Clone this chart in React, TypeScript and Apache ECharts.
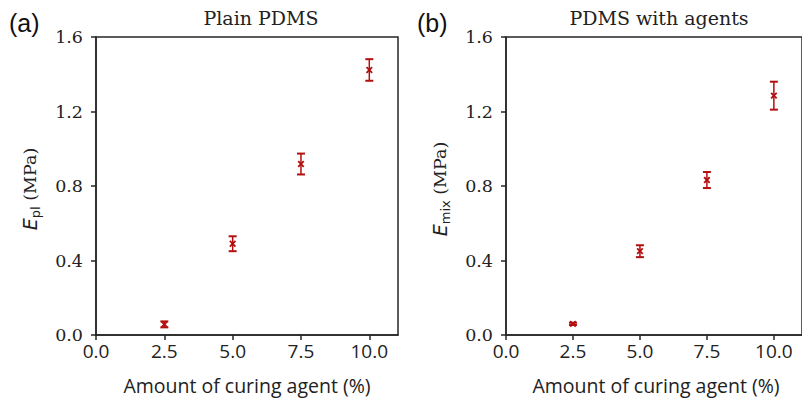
import React, { useEffect, useRef } from "react";
import * as echarts from "echarts";

const curingAgent = [2.5, 5.0, 7.5, 10.0];
const plainMean = [0.057, 0.49, 0.918, 1.423];
const plainErr = [0.016, 0.04, 0.056, 0.058];
const agentMean = [0.06, 0.45, 0.832, 1.285];
const agentErr = [0.006, 0.032, 0.043, 0.075];
const xTicks = [0, 2.5, 5.0, 7.5, 10.0];

const RED = "#b30f0f";
const AX = "#262626";

function renderErr(params: any, api: any) {
  const x = api.value(0);
  const y = api.value(1);
  const e = api.value(2);
  const c = api.coord([x, y]);
  const t = api.coord([x, y + e]);
  const b = api.coord([x, y - e]);
  const cw = 4;
  const m = 2.8;
  const ln = (x1: number, y1: number, x2: number, y2: number, w: number) => ({
    type: "line",
    shape: { x1, y1, x2, y2 },
    style: { stroke: RED, lineWidth: w },
  });
  return {
    type: "group",
    children: [
      ln(c[0], t[1], c[0], b[1], 1.5),
      ln(c[0] - cw, t[1], c[0] + cw, t[1], 2),
      ln(c[0] - cw, b[1], c[0] + cw, b[1], 2),
      ln(c[0] - m, c[1] - m, c[0] + m, c[1] + m, 1.8),
      ln(c[0] - m, c[1] + m, c[0] + m, c[1] - m, 1.8),
    ],
  };
}

export default function App() {
  const ref = useRef<HTMLDivElement>(null);
  useEffect(() => {
    if (!ref.current) return;
    const chart = echarts.init(ref.current, undefined, { renderer: "svg" });
    const grids = [
      { left: 96, top: 37, width: 302, height: 298 },
      { left: 506, top: 37, width: 302, height: 298 },
    ];
    const xAxisBase = (gi: number) => ({
      type: "value",
      gridIndex: gi,
      min: 0,
      max: 11.05,
      splitLine: { show: false },
      axisLine: { show: true, onZero: false, lineStyle: { color: AX, width: 1.5 } },
      axisTick: { show: true, inside: false, length: 5, lineStyle: { color: AX, width: 1.5 }, customValues: xTicks },
      axisLabel: {
        customValues: xTicks,
        formatter: (v: number) => v.toFixed(1),
        color: "#222",
        fontFamily: "Open Sans",
        fontSize: 19,
        margin: 6,
      },
    });
    const yAxisBase = (gi: number) => ({
      type: "value",
      gridIndex: gi,
      min: 0,
      max: 1.6,
      interval: 0.4,
      splitLine: { show: false },
      axisLine: { show: true, onZero: false, lineStyle: { color: AX, width: 1.5 } },
      axisTick: { show: true, inside: false, length: 5, lineStyle: { color: AX, width: 1.5 } },
      axisLabel: {
        formatter: (v: number) => v.toFixed(1),
        color: "#222",
        fontFamily: "DejaVu Serif",
        fontSize: 17.5,
        margin: 13,
      },
    });
    const yName = (x: number, sub: string) => ({
      type: "text",
      x,
      y: 189,
      rotation: Math.PI / 2,
      style: {
        text: `{e|E}{s|${sub}}{m| (MPa)}`,
        align: "center",
        verticalAlign: "middle",
        fill: "#222",
        rich: {
          e: { fontFamily: "DejaVu Sans", fontStyle: "italic", fontSize: 19, lineHeight: 24, verticalAlign: "middle" },
          s: { fontFamily: "DejaVu Sans", fontSize: 13, lineHeight: 24, verticalAlign: "bottom", padding: [9, 0, 0, 0] },
          m: { fontFamily: "DejaVu Serif", fontSize: 17.5, lineHeight: 24, verticalAlign: "middle" },
        },
      },
    });
    const plainData = curingAgent.map((x, i) => [x, plainMean[i], plainErr[i]]);
    const agentData = curingAgent.map((x, i) => [x, agentMean[i], agentErr[i]]);
    chart.setOption({
      animation: false,
      backgroundColor: "#fff",
      grid: grids.map((g) => ({ ...g, show: true, borderColor: AX, borderWidth: 1.5, backgroundColor: "transparent" })),
      xAxis: [xAxisBase(0), xAxisBase(1)],
      yAxis: [yAxisBase(0), yAxisBase(1)],
      series: [
        {
          type: "custom",
          xAxisIndex: 0,
          yAxisIndex: 0,
          renderItem: renderErr,
          encode: { x: 0, y: [1] },
          data: plainData,
          clip: false,
        },
        {
          type: "custom",
          xAxisIndex: 1,
          yAxisIndex: 1,
          renderItem: renderErr,
          encode: { x: 0, y: [1] },
          data: agentData,
          clip: false,
        },
      ],
      graphic: [
        { type: "text", x: 9, y: 23, style: { text: "(a)", fontFamily: "Liberation Sans", fontSize: 25, fill: "#111", verticalAlign: "middle" } },
        { type: "text", x: 417, y: 23, style: { text: "(b)", fontFamily: "Liberation Sans", fontSize: 25, fill: "#111", verticalAlign: "middle" } },
        { type: "text", x: 261, y: 18, style: { text: "Plain PDMS", fontFamily: "DejaVu Serif", fontSize: 19, fill: "#222", align: "center", verticalAlign: "middle" } },
        { type: "text", x: 659, y: 18, style: { text: "PDMS with agents", fontFamily: "DejaVu Serif", fontSize: 19, fill: "#222", align: "center", verticalAlign: "middle" } },
        { type: "text", x: 247, y: 385, style: { text: "Amount of curing agent (%)", fontFamily: "Open Sans", fontSize: 19.5, fill: "#222", align: "center", verticalAlign: "middle" } },
        { type: "text", x: 656, y: 385, style: { text: "Amount of curing agent (%)", fontFamily: "Open Sans", fontSize: 19.5, fill: "#222", align: "center", verticalAlign: "middle" } },
        yName(30, "pl"),
        yName(440, "mix"),
      ],
    });
    return () => chart.dispose();
  }, []);
  return <div ref={ref} style={{ position: "absolute", left: 0, top: 0, width: 802, height: 403 }} />;
}
